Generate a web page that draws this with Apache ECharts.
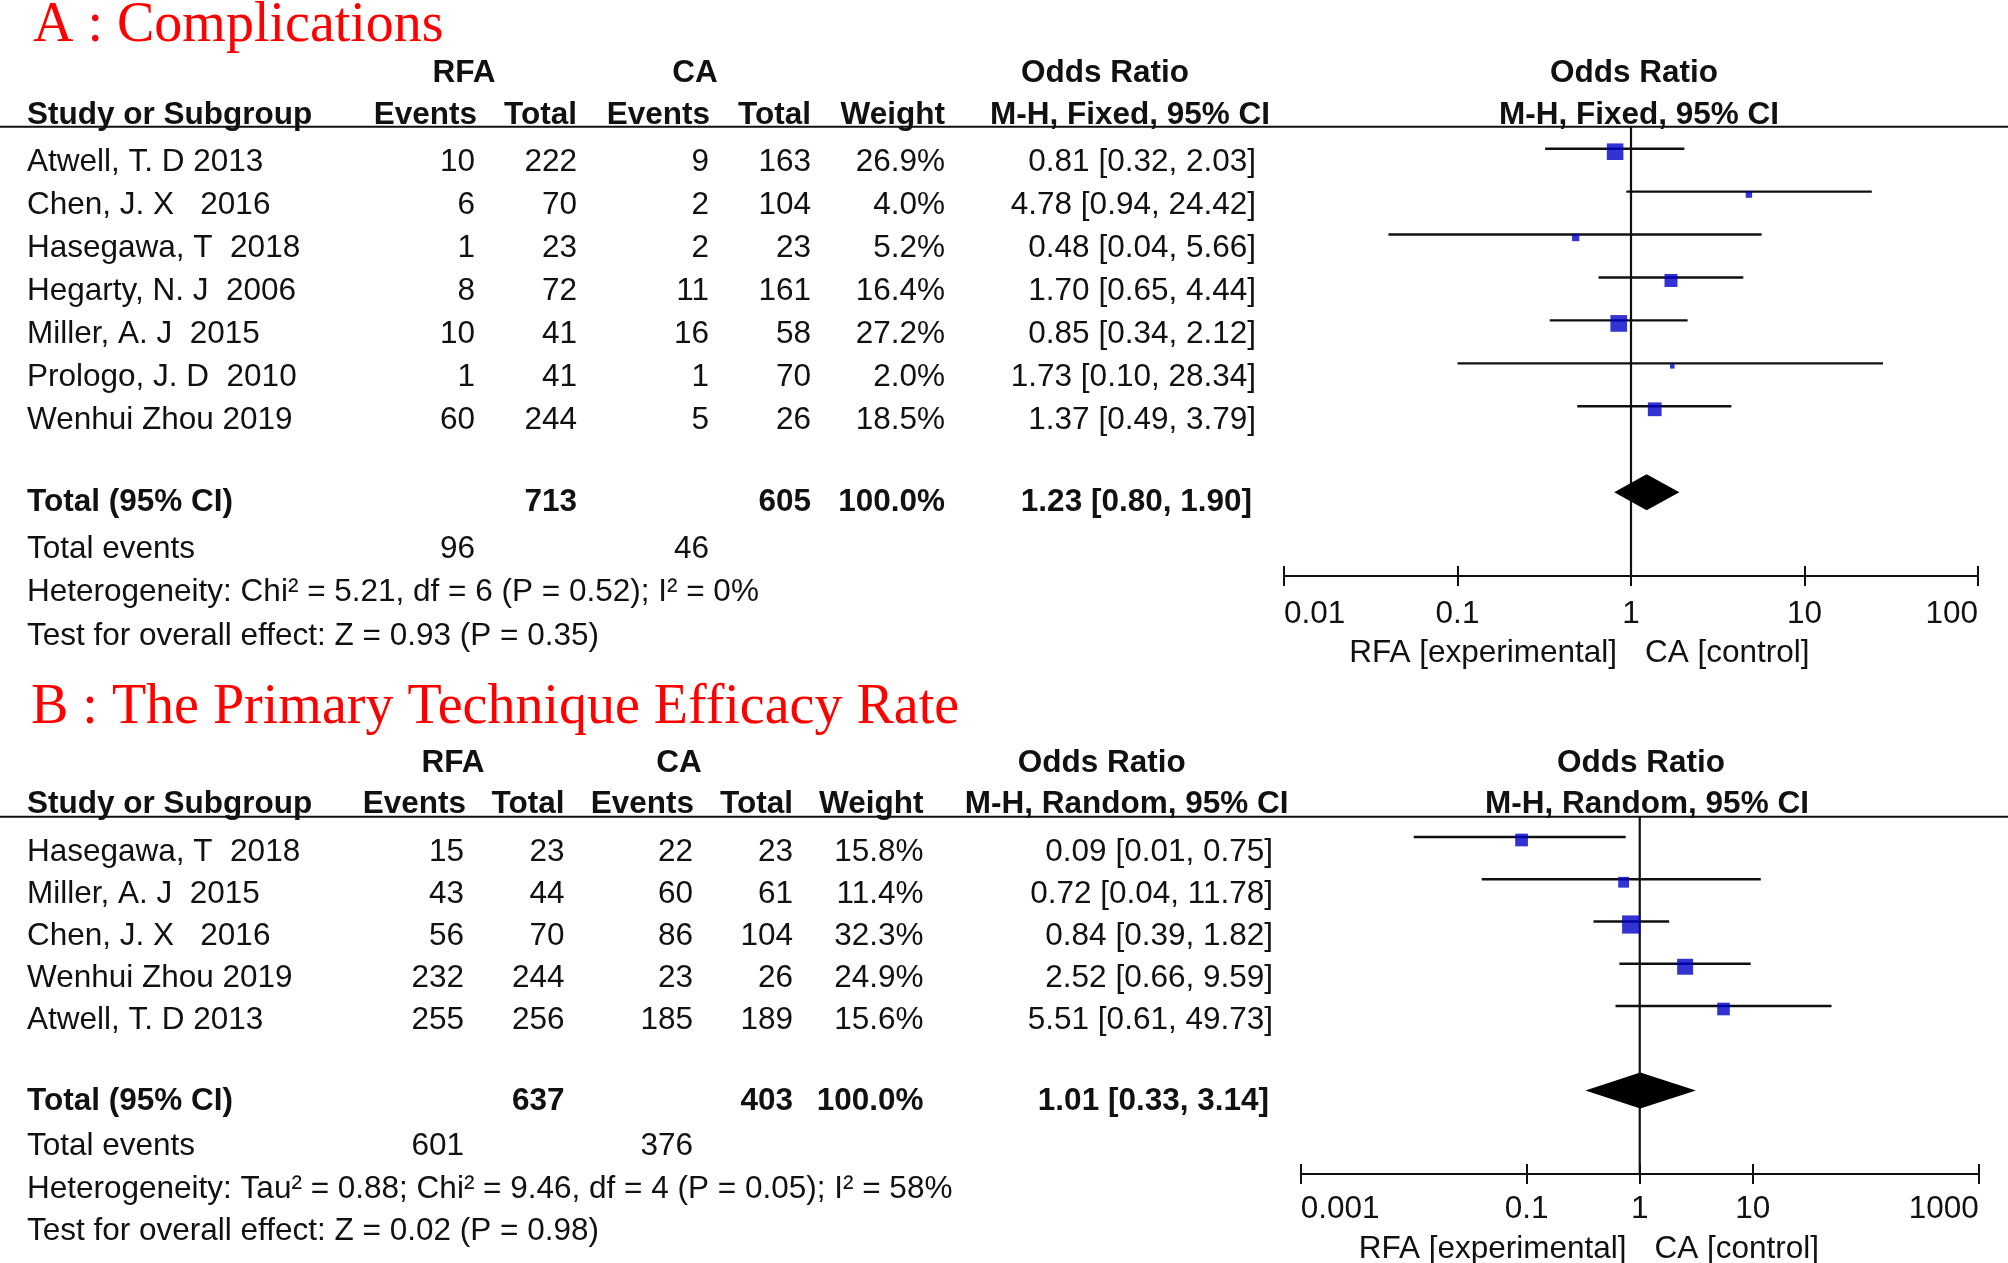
<!DOCTYPE html>
<html>
<head>
<meta charset="utf-8">
<script src="https://cdn.jsdelivr.net/npm/echarts@6/dist/echarts.min.js"></script>
<style>
html,body{margin:0;padding:0;background:#fff;}
#c{width:2008px;height:1263px;}
</style>
</head>
<body>
<div id="c"></div>
<script>
// ---------- Panel A: Complications ----------
const titleA = 'A : Complications';
const studiesA = ['Atwell, T. D 2013', 'Chen, J. X   2016', 'Hasegawa, T  2018', 'Hegarty, N. J  2006', 'Miller, A. J  2015', 'Prologo, J. D  2010', 'Wenhui Zhou 2019'];
const rfaEventsA = [10, 6, 1, 8, 10, 1, 60];
const rfaTotalA = [222, 70, 23, 72, 41, 41, 244];
const caEventsA = [9, 2, 2, 11, 16, 1, 5];
const caTotalA = [163, 104, 23, 161, 58, 70, 26];
const weightA = [26.9, 4.0, 5.2, 16.4, 27.2, 2.0, 18.5];
const orA = [0.81, 4.78, 0.48, 1.70, 0.85, 1.73, 1.37];
const loA = [0.32, 0.94, 0.04, 0.65, 0.34, 0.10, 0.49];
const hiA = [2.03, 24.42, 5.66, 4.44, 2.12, 28.34, 3.79];
const totalA = { rfaTotal: 713, caTotal: 605, weight: '100.0%', or: 1.23, lo: 0.80, hi: 1.90, rfaEvents: 96, caEvents: 46 };
const hetA = 'Heterogeneity: Chi\u00b2 = 5.21, df = 6 (P = 0.52); I\u00b2 = 0%';
const testA = 'Test for overall effect: Z = 0.93 (P = 0.35)';
const methodA = 'M-H, Fixed, 95% CI';
const ticksA = [0.01, 0.1, 1, 10, 100];

// ---------- Panel B: Primary technique efficacy ----------
const titleB = 'B : The Primary Technique Efficacy Rate';
const studiesB = ['Hasegawa, T  2018', 'Miller, A. J  2015', 'Chen, J. X   2016', 'Wenhui Zhou 2019', 'Atwell, T. D 2013'];
const rfaEventsB = [15, 43, 56, 232, 255];
const rfaTotalB = [23, 44, 70, 244, 256];
const caEventsB = [22, 60, 86, 23, 185];
const caTotalB = [23, 61, 104, 26, 189];
const weightB = [15.8, 11.4, 32.3, 24.9, 15.6];
const orB = [0.09, 0.72, 0.84, 2.52, 5.51];
const loB = [0.01, 0.04, 0.39, 0.66, 0.61];
const hiB = [0.75, 11.78, 1.82, 9.59, 49.73];
const totalB = { rfaTotal: 637, caTotal: 403, weight: '100.0%', or: 1.01, lo: 0.33, hi: 3.14, rfaEvents: 601, caEvents: 376 };
const hetB = 'Heterogeneity: Tau\u00b2 = 0.88; Chi\u00b2 = 9.46, df = 4 (P = 0.05); I\u00b2 = 58%';
const testB = 'Test for overall effect: Z = 0.02 (P = 0.98)';
const methodB = 'M-H, Random, 95% CI';
const ticksB = [0.001, 0.1, 1, 10, 1000];

const expLabel = 'RFA [experimental]';
const ctlLabel = 'CA [control]';

// ---------- styling / layout ----------
const SANS = '"Liberation Sans", Arial, sans-serif';
const SERIF = '"Liberation Serif", "Times New Roman", serif';
const FS = 31.5;
const TXT = '#111111';
const BLUE = '#0000c8';
const LINE = '#101010';
const DY = 2; // text baseline correction

const fmt2 = v => v.toFixed(2);
const ciText = (o, l, h) => fmt2(o) + ' [' + fmt2(l) + ', ' + fmt2(h) + ']';

const graphics = [];
function T(x, y, s, align, bold) {
  graphics.push({
    type: 'text', x: x, y: y + DY, silent: true,
    style: { text: String(s), fontFamily: SANS, fontSize: FS, fontWeight: bold ? 'bold' : 'normal',
      fill: TXT, align: align || 'left', verticalAlign: 'middle' }
  });
}
function title(x, y, s) {
  graphics.push({ type: 'text', x: x, y: y + DY, silent: true,
    style: { text: s, fontFamily: SERIF, fontSize: 56, fill: '#ff0000', align: 'left', verticalAlign: 'middle' } });
}
function hline(y) {
  graphics.push({ type: 'line', silent: true, shape: { x1: 0, y1: y, x2: 2008, y2: y }, style: { stroke: LINE, lineWidth: 2 } });
}

function panel(L) {
  title(L.titleX, L.titleY, L.title);
  T(L.colRE - 11, L.h1, 'RFA', 'center', true);
  T(L.colCE - 14, L.h1, 'CA', 'center', true);
  T(L.orHdr, L.h1, 'Odds Ratio', 'center', true);
  T(L.plotHdr, L.h1, 'Odds Ratio', 'center', true);
  T(27, L.h2, 'Study or Subgroup', 'left', true);
  T(L.colRE + 2, L.h2, 'Events', 'right', true);
  T(L.colRT, L.h2, 'Total', 'right', true);
  T(L.colCE + 1, L.h2, 'Events', 'right', true);
  T(L.colCT, L.h2, 'Total', 'right', true);
  T(L.colW, L.h2, 'Weight', 'right', true);
  T(L.mhHdr, L.h2, L.method, 'center', true);
  T(L.plotMh, L.h2, L.method, 'center', true);
  hline(L.hline);
  L.studies.forEach((s, i) => {
    const y = L.row0 + L.rowH * i;
    T(27, y, s, 'left');
    T(L.colRE, y, L.re[i], 'right');
    T(L.colRT, y, L.rt[i], 'right');
    T(L.colCE, y, L.ce[i], 'right');
    T(L.colCT, y, L.ct[i], 'right');
    T(L.colW, y, L.w[i].toFixed(1) + '%', 'right');
    T(L.colOR, y, ciText(L.or[i], L.lo[i], L.hi[i]), 'right');
  });
  const t = L.total;
  T(27, L.yTotal, 'Total (95% CI)', 'left', true);
  T(L.colRT, L.yTotal, t.rfaTotal, 'right', true);
  T(L.colCT, L.yTotal, t.caTotal, 'right', true);
  T(L.colW, L.yTotal, t.weight, 'right', true);
  T(L.colOR - 4, L.yTotal, ciText(t.or, t.lo, t.hi), 'right', true);
  T(27, L.yEvents, 'Total events', 'left');
  T(L.colRE, L.yEvents, t.rfaEvents, 'right');
  T(L.colCE, L.yEvents, t.caEvents, 'right');
  T(27, L.yHet, L.het, 'left');
  T(27, L.yTest, L.test, 'left');
  T(L.oneX - 13, L.yExp, expLabel, 'right');
  T(L.oneX + 15, L.yExp, ctlLabel, 'left');
}

const LA = { title: titleA, titleX: 33, titleY: 24, h1: 71.7, h2: 113.3, hline: 126.7,
  colRE: 475, colRT: 577, colCE: 709, colCT: 811, colW: 945, colOR: 1256,
  orHdr: 1105, mhHdr: 1130, plotHdr: 1634, plotMh: 1639, method: methodA,
  row0: 160.7, rowH: 42.93, yTotal: 500.5, yEvents: 547, yHet: 590.7, yTest: 634, yExp: 651.7, oneX: 1630,
  studies: studiesA, re: rfaEventsA, rt: rfaTotalA, ce: caEventsA, ct: caTotalA, w: weightA,
  or: orA, lo: loA, hi: hiA, total: totalA, het: hetA, test: testA };
const LB = { title: titleB, titleX: 31, titleY: 706.7, h1: 761.7, h2: 802.5, hline: 816.8,
  colRE: 464, colRT: 564.5, colCE: 693, colCT: 793, colW: 923.5, colOR: 1273,
  orHdr: 1101.7, mhHdr: 1126.7, plotHdr: 1641, plotMh: 1647, method: methodB,
  row0: 850, rowH: 42.1, yTotal: 1099, yEvents: 1144.5, yHet: 1187, yTest: 1229, yExp: 1247, oneX: 1639.5,
  studies: studiesB, re: rfaEventsB, rt: rfaTotalB, ce: caEventsB, ct: caTotalB, w: weightB,
  or: orB, lo: loB, hi: hiB, total: totalB, het: hetB, test: testB };
panel(LA);
panel(LB);

// ---------- forest plots ----------
const labelFmt = v => String(Number(Number(v).toPrecision(4)));
function xAxes(grid, min, max, ticks, margin) {
  return [{
    type: 'log', logBase: 10, gridIndex: grid, min: min, max: max, position: 'bottom',
    axisLine: { show: true, onZero: false, lineStyle: { color: LINE, width: 2 } },
    axisTick: { show: true, length: 10, inside: false, customValues: ticks, lineStyle: { color: LINE, width: 2 } },
    axisLabel: { show: true, customValues: ticks, margin: margin, fontFamily: SANS, fontSize: FS, color: TXT,
      formatter: labelFmt, alignMinLabel: 'left', alignMaxLabel: 'right', hideOverlap: false },
    splitLine: { show: false }
  }, {
    type: 'log', logBase: 10, gridIndex: grid, min: min, max: max, position: 'bottom',
    axisLine: { show: false, onZero: false },
    axisTick: { show: true, length: 10, inside: true, customValues: ticks, lineStyle: { color: LINE, width: 2 } },
    axisLabel: { show: false }, splitLine: { show: false }
  }];
}
function yAxis(grid, min, max) {
  return { type: 'value', gridIndex: grid, min: min, max: max, inverse: true, show: false,
    axisLine: { show: false }, splitLine: { show: false } };
}

function forestSeries(xi, yi, or, lo, hi, w, total, totalRow, yMin, yMax) {
  return [
    { type: 'line', xAxisIndex: xi, yAxisIndex: yi, data: [[1, yMin], [1, yMax]], symbol: 'none',
      lineStyle: { color: LINE, width: 2.2 }, z: 2, silent: true },
    { type: 'custom', xAxisIndex: xi, yAxisIndex: yi, z: 3, silent: true,
      data: lo.map((l, i) => [l, hi[i], i]),
      encode: { x: [0, 1], y: 2 },
      renderItem: function (p, api) {
        const a = api.coord([api.value(0), api.value(2)]);
        const b = api.coord([api.value(1), api.value(2)]);
        return { type: 'line', shape: { x1: a[0], y1: a[1], x2: b[0], y2: b[1] },
          style: { stroke: LINE, lineWidth: 2.4 } };
      } },
    { type: 'scatter', xAxisIndex: xi, yAxisIndex: yi, z: 4, silent: true,
      data: or.map((v, i) => [v, i, w[i]]),
      symbol: 'rect', symbolOffset: [0, 3],
      symbolSize: function (val) { return Math.max(4.5, 3.2 * Math.sqrt(val[2])); },
      itemStyle: { color: BLUE } },
    { type: 'custom', xAxisIndex: xi, yAxisIndex: yi, z: 5, silent: true,
      data: [[total.lo, total.or, total.hi, totalRow]],
      encode: { x: [0, 1, 2], y: 3 },
      renderItem: function (p, api) {
        const y = api.value(3), h = 18;
        const l = api.coord([api.value(0), y]);
        const c = api.coord([api.value(1), y]);
        const r = api.coord([api.value(2), y]);
        return { type: 'polygon', shape: { points: [[l[0], l[1]], [c[0], c[1] - h], [r[0], r[1]], [c[0], c[1] + h]] },
          style: { fill: '#000' } };
      } }
  ];
}

// grid A: header line y 126.7 -> axis y 576; rows at 148.7 + 42.93*i
const yMinA = (126.7 - 148.7) / 42.93, yMaxA = (576 - 148.7) / 42.93;
// grid B: header line y 816.8 -> axis y 1174; rows at 837 + 42.25*i
const yMinB = (816.8 - 837) / 42.25, yMaxB = (1174 - 837) / 42.25;

const chart = echarts.init(document.getElementById('c'), null, { renderer: 'canvas' });
chart.setOption({
  backgroundColor: '#ffffff',
  animation: false,
  grid: [
    { left: 1284, right: 30, top: 126.7, height: 576 - 126.7 },
    { left: 1300.7, right: 29.2, top: 816.8, height: 1174 - 816.8 }
  ],
  xAxis: [].concat(xAxes(0, 0.01, 100, ticksA, 22), xAxes(1, 0.001, 1000, ticksB, 19)),
  yAxis: [yAxis(0, yMinA, yMaxA), yAxis(1, yMinB, yMaxB)],
  series: [].concat(
    forestSeries(0, 0, orA, loA, hiA, weightA, totalA, 8, yMinA, yMaxA),
    forestSeries(2, 1, orB, loB, hiB, weightB, totalB, 6, yMinB, yMaxB)
  ),
  graphic: graphics
});
</script>
</body>
</html>
